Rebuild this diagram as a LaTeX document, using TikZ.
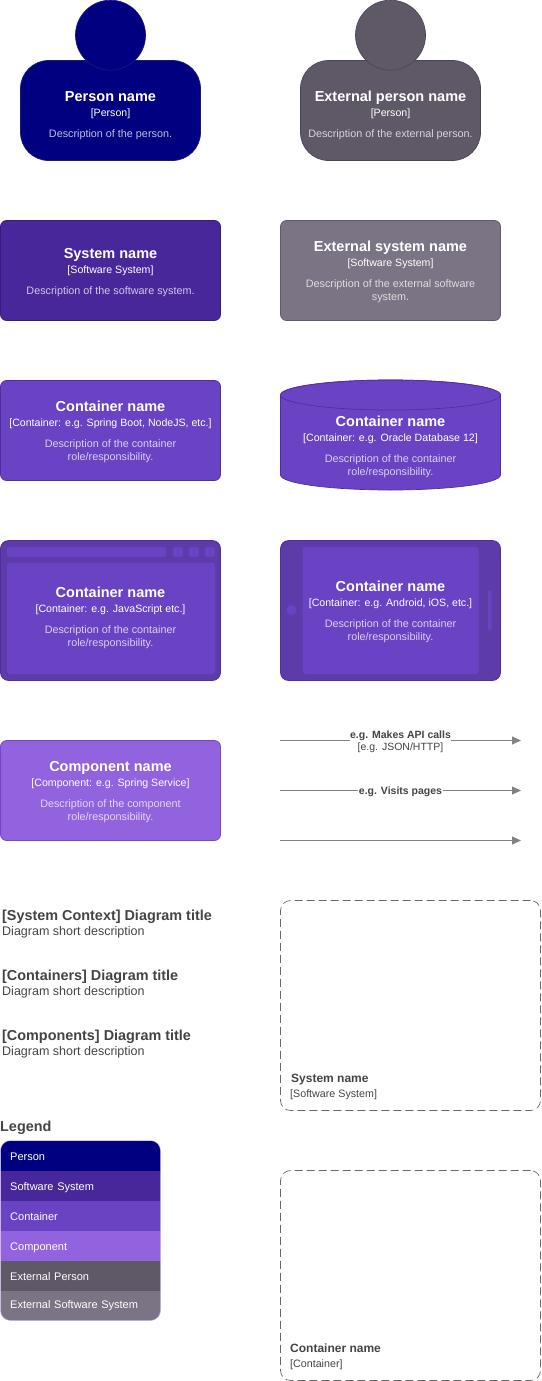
\documentclass[tikz,border=0pt]{standalone}
\usepackage{fontspec}
\setmainfont{Liberation Sans}
\usetikzlibrary{arrows.meta}

\definecolor{personfill}{HTML}{000080}
\definecolor{personline}{HTML}{1A1A6E}
\definecolor{systemfill}{HTML}{48279A}
\definecolor{systemline}{HTML}{341C7C}
\definecolor{containerfill}{HTML}{6A43C4}
\definecolor{containerline}{HTML}{4F2FA0}
\definecolor{devicefill}{HTML}{5D3BA8}
\definecolor{componentfill}{HTML}{9263DF}
\definecolor{componentline}{HTML}{7445C4}
\definecolor{extpersonfill}{HTML}{5F5866}
\definecolor{extpersonline}{HTML}{4B4558}
\definecolor{extsystemfill}{HTML}{7B7484}
\definecolor{extsystemline}{HTML}{5F5870}
\definecolor{inkdark}{HTML}{444444}
\definecolor{linkgray}{HTML}{828282}

\newcommand{\cardtext}[3]{{\fontsize{14.5}{16}\selectfont\bfseries #1}\\[2pt]{\fontsize{10.6}{13}\selectfont #2}\\[8pt]\pgfsetfillopacity{0.75}#3}

\tikzset{
  cardtext/.style={text=white, align=center, inner sep=0, font=\fontsize{10.8}{13}\selectfont},
  card/.style={rounded corners=6, minimum width=220, minimum height=100, line width=0.7},
  personbody/.style={rounded corners=28, minimum width=180, minimum height=100, line width=0.7},
  personhead/.style={circle, minimum size=70, inner sep=0, line width=0.7},
  devicebody/.style={fill=devicefill, draw=containerline, line width=0.7, rounded corners=8},
  titletext/.style={anchor=west, inner sep=0, text=inkdark, font=\fontsize{14.4}{16}\selectfont\bfseries},
  subtext/.style={anchor=west, inner sep=0, text=inkdark, font=\fontsize{12.5}{14}\selectfont},
  boundary/.style={draw=inkdark!80, dash pattern=on 8 off 4, rounded corners=10, line width=0.7, minimum width=260, minimum height=210},
  link/.style={draw=linkgray, line width=0.8, -{Triangle[length=9, width=8]}},
  linktext/.style={fill=white, inner sep=0.5, align=center, text=inkdark, font=\fontsize{10.5}{12}\selectfont},
  legendrow/.style={anchor=north west, text=white, text width=150, inner xsep=10, inner ysep=0, align=left, minimum height=30, text height=9.5, text depth=0.5, font=\fontsize{11}{13}\selectfont},
}

\begin{document}
\begin{tikzpicture}[x=1pt,y=-1pt]
  \useasboundingbox (0,0) rectangle (541,1381);

  % people
  \node[personbody, draw=personline, fill=personfill] (person) at (110.5,110.5) {};
  \node[personhead, draw=personline, fill=personfill] (personhd) at (110.5,35.2) {};
  \node[cardtext] (personlbl) at (110.5,115.5) {\cardtext{Person name}{[Person]}{Description of the person.}};
  \node[personbody, draw=extpersonline, fill=extpersonfill] (extperson) at (390.5,110.5) {};
  \node[personhead, draw=extpersonline, fill=extpersonfill] (extpersonhd) at (390.5,35.2) {};
  \node[cardtext] (extpersonlbl) at (390.5,115.5) {\cardtext{External person name}{[Person]}{Description of the external person.}};

  % systems
  \node[card, draw=systemline, fill=systemfill] (system) at (110.5,270.5) {};
  \node[cardtext] (systemlbl) at (110.5,272.5)
    {\cardtext{System name}{[Software System]}{Description of the software system.}};
  \node[card, draw=extsystemline, fill=extsystemfill] (extsystem) at (390.5,270.5) {};
  \node[cardtext] (extsystemlbl) at (390.5,272)
    {\cardtext{External system name}{[Software System]}{Description of the external software\\system.}};

  % containers
  \node[card, draw=containerline, fill=containerfill] (container) at (110.5,430.5) {};
  \node[cardtext] (containerlbl) at (110.5,432)
    {\cardtext{Container name}{[Container: e.g. Spring Boot, NodeJS, etc.]}{Description of the container\\role/responsibility.}};
  \draw[draw=containerline, fill=containerfill, line width=0.7]
    (280.5,395) -- (280.5,475) arc[start angle=180, end angle=0, x radius=110, y radius=15]
    -- (500.5,395) arc[start angle=0, end angle=-180, x radius=110, y radius=15] -- cycle;
  \draw[draw=containerline, line width=0.7] (390.5,395) ellipse [x radius=110, y radius=15];
  \node[cardtext] (databaselbl) at (390.5,447)
    {\cardtext{Container name}{[Container: e.g. Oracle Database 12]}{Description of the container\\role/responsibility.}};

  % web browser
  \draw[devicebody] (0.5,540.5) rectangle (220.5,680.5);
  \fill[containerfill, rounded corners=2] (7,547) rectangle (166,557);
  \fill[containerfill, rounded corners=3] (172.5,547) rectangle (183,557);
  \fill[containerfill, rounded corners=3] (188.5,547) rectangle (199,557);
  \fill[containerfill, rounded corners=3] (204.5,547) rectangle (215,557);
  \fill[containerfill, rounded corners=3] (7,562.5) rectangle (215,674);
  \node[cardtext] (browserlbl) at (110.5,618)
    {\cardtext{Container name}{[Container: e.g. JavaScript etc.]}{Description of the container\\role/responsibility.}};

  % mobile device
  \draw[devicebody] (280.5,540.5) rectangle (500.5,680.5);
  \fill[containerfill, rounded corners=3] (302.5,547) rectangle (478.5,674);
  \fill[containerfill] (291.5,610) circle (5);
  \fill[containerfill, rounded corners=1] (488,590.5) rectangle (491.5,630);
  \node[cardtext] (mobilelbl) at (390.5,612)
    {\cardtext{Container name}{[Container: e.g. Android, iOS, etc.]}{Description of the container\\role/responsibility.}};

  % component
  \node[card, draw=componentline, fill=componentfill] (component) at (110.5,790.5) {};
  \node[cardtext] (componentlbl) at (110.5,792.5)
    {\cardtext{Component name}{[Component: e.g. Spring Service]}{Description of the component\\role/responsibility.}};

  % relationships
  \coordinate (apifrom) at (280,740.5);
  \coordinate (apito) at (521,740.5);
  \coordinate (pagesfrom) at (280,790.5);
  \coordinate (pagesto) at (521,790.5);
  \coordinate (plainfrom) at (280,840.5);
  \coordinate (plainto) at (521,840.5);
  \draw[link] (apifrom) -- (apito);
  \node[linktext] (apilbl) at (400.5,741.5) {\textbf{e.g. Makes API calls}\\{}[e.g. JSON/HTTP]};
  \draw[link] (pagesfrom) -- (pagesto);
  \node[linktext] (pageslbl) at (400.5,791.5) {\textbf{e.g. Visits pages}};
  \draw[link] (plainfrom) -- (plainto);

  % diagram titles
  \node[titletext] (contexttitle) at (2,917) {[System Context] Diagram title};
  \node[subtext] (contextsub) at (2,932) {Diagram short description};
  \node[titletext] (containerstitle) at (2,977) {[Containers] Diagram title};
  \node[subtext] (containerssub) at (2,992) {Diagram short description};
  \node[titletext] (componentstitle) at (2,1037) {[Components] Diagram title};
  \node[subtext] (componentssub) at (2,1052) {Diagram short description};

  % boundaries
  \node[boundary] (systembound) at (410.5,1005.5) {};
  \node[subtext, font=\fontsize{12}{14}\selectfont\bfseries] (systemboundlbl) at (291,1080) {System name};
  \node[subtext, font=\fontsize{10.7}{13}\selectfont] (systemboundtag) at (290,1095) {[Software System]};
  \node[boundary] (containerbound) at (410.5,1275.5) {};
  \node[subtext, font=\fontsize{12}{14}\selectfont\bfseries] (containerboundlbl) at (290,1348) {Container name};
  \node[subtext, font=\fontsize{10.7}{13}\selectfont] (containerboundtag) at (290,1365) {[Container]};

  % legend
  \node[titletext] (legendtitle) at (0,1128) {Legend};
  \begin{scope}
    \clip[rounded corners=10] (0.5,1140.5) rectangle (160.5,1320.5);
    \node[legendrow, fill=personfill] (rowperson) at (0,1140.5) {Person};
    \node[legendrow, fill=systemfill] (rowsystem) at (0,1170.5) {Software System};
    \node[legendrow, fill=containerfill] (rowcontainer) at (0,1200.5) {Container};
    \node[legendrow, fill=componentfill] (rowcomponent) at (0,1230.5) {Component};
    \node[legendrow, fill=extpersonfill] (rowextperson) at (0,1260.5) {External Person};
    \node[legendrow, fill=extsystemfill, text height=8, text depth=2] (rowextsystem) at (0,1290.5) {External Software System};
  \end{scope}
  \draw[draw=componentfill!50!white, line width=0.5, rounded corners=10] (0.5,1140.5) rectangle (160.5,1320.5);
\end{tikzpicture}
\end{document}
